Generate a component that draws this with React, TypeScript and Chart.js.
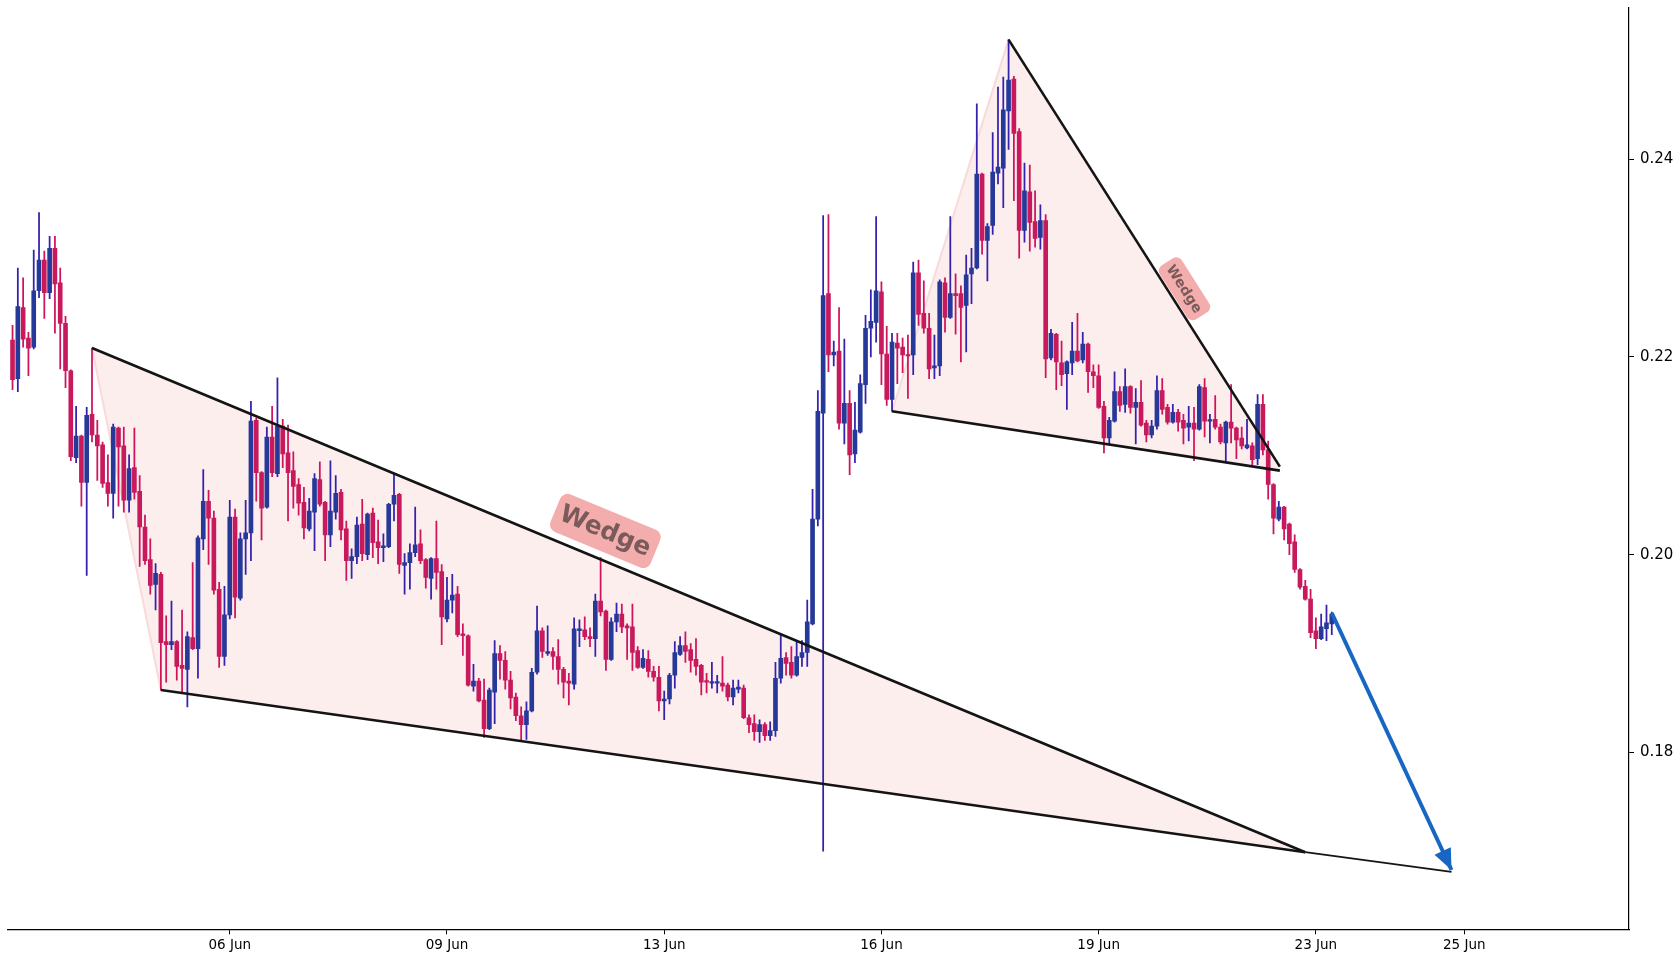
import React, { useEffect, useRef } from "react";
import { Chart, registerables } from "chart.js";

Chart.register(...registerables);

// ---------------- data ----------------
const opens = [
  0.2217, 0.2178, 0.2250, 0.2219, 0.2210, 0.2267, 0.2298, 0.2265, 0.2310, 0.2275,
  0.2234, 0.2186, 0.2098, 0.2120, 0.2073, 0.2142, 0.2121, 0.2111, 0.2073, 0.2062,
  0.2128, 0.2110, 0.2055, 0.2088, 0.2064, 0.2028, 0.1995, 0.1970, 0.1980, 0.1912,
  0.1909, 0.1912, 0.1888, 0.1884, 0.1916, 0.1905, 0.2016, 0.2054, 0.2037, 0.1965,
  0.1897, 0.1939, 0.2038, 0.1956, 0.2016, 0.2022, 0.2136, 0.2083, 0.2048, 0.2119,
  0.2082, 0.2130, 0.2103, 0.2085, 0.2071, 0.2053, 0.2026, 0.2043, 0.2076, 0.2053,
  0.2020, 0.2043, 0.2063, 0.2026, 0.1994, 0.1998, 0.2031, 0.2000, 0.2042, 0.2013,
  0.2007, 0.2008, 0.2051, 0.2061, 0.1989, 0.1992, 0.2002, 0.2011, 0.1995, 0.1976,
  0.1996, 0.1983, 0.1935, 0.1954, 0.1960, 0.1920, 0.1918, 0.1867, 0.1872, 0.1853,
  0.1824, 0.1861, 0.1900, 0.1893, 0.1873, 0.1856, 0.1837, 0.1828, 0.1842, 0.1881,
  0.1923, 0.1900, 0.1902, 0.1897, 0.1884, 0.1872, 0.1869, 0.1923, 0.1924, 0.1917,
  0.1915, 0.1953, 0.1943, 0.1894, 0.1932, 0.1940, 0.1928, 0.1927, 0.1903, 0.1886,
  0.1894, 0.1882, 0.1876, 0.1852, 0.1854, 0.1878, 0.1899, 0.1908, 0.1904, 0.1894,
  0.1888, 0.1872, 0.1870, 0.1870, 0.1870, 0.1868, 0.1856, 0.1864, 0.1865, 0.1835,
  0.1829, 0.1821, 0.1828, 0.1817, 0.1822, 0.1875, 0.1896, 0.1891, 0.1878, 0.1896,
  0.1901, 0.1930, 0.2036, 0.2143, 0.2264, 0.2202, 0.2206, 0.2133, 0.2153, 0.2102,
  0.2124, 0.2172, 0.2229, 0.2235, 0.2266, 0.2203, 0.2157, 0.2214, 0.2210, 0.2202,
  0.2202, 0.2285, 0.2244, 0.2229, 0.2189, 0.2191, 0.2275, 0.2240, 0.2264, 0.2264,
  0.2252, 0.2284, 0.2290, 0.2385, 0.2318, 0.2333, 0.2386, 0.2391, 0.2449, 0.2481,
  0.2428, 0.2328, 0.2367, 0.2337, 0.2321, 0.2338, 0.2199, 0.2223, 0.2194, 0.2183,
  0.2194, 0.2206, 0.2197, 0.2213, 0.2185, 0.2181, 0.2150, 0.2118, 0.2135, 0.2165,
  0.2152, 0.2170, 0.2149, 0.2154, 0.2133, 0.2121, 0.2130, 0.2166, 0.2149, 0.2134,
  0.2144, 0.2136, 0.2129, 0.2133, 0.2127, 0.2169, 0.2135, 0.2137, 0.2129, 0.2113,
  0.2134, 0.2128, 0.2118, 0.2108, 0.2110, 0.2097, 0.2152, 0.2106, 0.2071, 0.2036,
  0.2048, 0.2031, 0.2013, 0.1985, 0.1968, 0.1955, 0.1923, 0.1915, 0.1925, 0.1930,
];

const highs = [
  0.2232, 0.2290, 0.2280, 0.2225, 0.2308, 0.2346, 0.2307, 0.2322, 0.2322, 0.2290,
  0.2241, 0.2187, 0.2150, 0.2121, 0.2149, 0.2209, 0.2136, 0.2114, 0.2101, 0.2132,
  0.2129, 0.2129, 0.2101, 0.2128, 0.2080, 0.2040, 0.2016, 0.1991, 0.1982, 0.1938,
  0.1953, 0.1913, 0.1944, 0.1922, 0.1992, 0.2019, 0.2086, 0.2065, 0.2044, 0.1972,
  0.1968, 0.2055, 0.2046, 0.2022, 0.2055, 0.2155, 0.2138, 0.2084, 0.2129, 0.2150,
  0.2179, 0.2137, 0.2131, 0.2104, 0.2077, 0.2068, 0.2057, 0.2082, 0.2094, 0.2054,
  0.2095, 0.2080, 0.2066, 0.2034, 0.2006, 0.2038, 0.2056, 0.2042, 0.2047, 0.2035,
  0.2021, 0.2052, 0.2082, 0.2062, 0.2001, 0.2011, 0.2048, 0.2025, 0.1996, 0.1997,
  0.2034, 0.1990, 0.1977, 0.1980, 0.1968, 0.1930, 0.1919, 0.1889, 0.1875, 0.1874,
  0.1865, 0.1913, 0.1908, 0.1902, 0.1882, 0.1860, 0.1846, 0.1851, 0.1885, 0.1948,
  0.1926, 0.1928, 0.1906, 0.1914, 0.1886, 0.1880, 0.1936, 0.1934, 0.1937, 0.1926,
  0.1960, 0.1997, 0.1944, 0.1936, 0.1951, 0.1950, 0.1930, 0.1950, 0.1907, 0.1904,
  0.1903, 0.1887, 0.1887, 0.1862, 0.1880, 0.1912, 0.1917, 0.1922, 0.1910, 0.1915,
  0.1889, 0.1880, 0.1891, 0.1878, 0.1897, 0.1870, 0.1873, 0.1873, 0.1868, 0.1838,
  0.1838, 0.1833, 0.1830, 0.1831, 0.1891, 0.1919, 0.1901, 0.1907, 0.1912, 0.1913,
  0.1954, 0.2066, 0.2166, 0.2343, 0.2344, 0.2216, 0.2250, 0.2218, 0.2166, 0.2154,
  0.2182, 0.2242, 0.2268, 0.2342, 0.2276, 0.2231, 0.2224, 0.2224, 0.2219, 0.2222,
  0.2296, 0.2298, 0.2277, 0.2244, 0.2222, 0.2278, 0.2280, 0.2342, 0.2284, 0.2272,
  0.2303, 0.2310, 0.2456, 0.2386, 0.2335, 0.2427, 0.2473, 0.2483, 0.2521, 0.2484,
  0.2431, 0.2396, 0.2394, 0.2368, 0.2354, 0.2344, 0.2228, 0.2224, 0.2216, 0.2196,
  0.2235, 0.2244, 0.2225, 0.2214, 0.2192, 0.2192, 0.2155, 0.2139, 0.2185, 0.2170,
  0.2188, 0.2171, 0.2168, 0.2176, 0.2136, 0.2136, 0.2181, 0.2178, 0.2152, 0.2152,
  0.2147, 0.2142, 0.2150, 0.2149, 0.2172, 0.2178, 0.2142, 0.2161, 0.2132, 0.2135,
  0.2172, 0.2129, 0.2129, 0.2137, 0.2113, 0.2162, 0.2162, 0.2115, 0.2072, 0.2054,
  0.2049, 0.2032, 0.2020, 0.1986, 0.1974, 0.1965, 0.1936, 0.1940, 0.1949, 0.1942,
];

const lows = [
  0.2167, 0.2165, 0.2210, 0.2181, 0.2208, 0.2260, 0.2239, 0.2259, 0.2224, 0.2188,
  0.2169, 0.2095, 0.2093, 0.2049, 0.1979, 0.2114, 0.2075, 0.2068, 0.2049, 0.2037,
  0.2049, 0.2043, 0.2043, 0.2056, 0.1988, 0.1990, 0.1960, 0.1944, 0.1863, 0.1871,
  0.1904, 0.1873, 0.1860, 0.1846, 0.1904, 0.1875, 0.2005, 0.1990, 0.1960, 0.1886,
  0.1888, 0.1935, 0.1936, 0.1954, 0.1980, 0.1994, 0.2054, 0.2015, 0.2047, 0.2079,
  0.2079, 0.2088, 0.2034, 0.2047, 0.2040, 0.2016, 0.2024, 0.2004, 0.2049, 0.1994,
  0.2008, 0.2036, 0.2015, 0.1974, 0.1976, 0.1991, 0.1994, 0.1995, 0.1997, 0.1991,
  0.1993, 0.2007, 0.2034, 0.1981, 0.1960, 0.1965, 0.1998, 0.1991, 0.1966, 0.1955,
  0.1965, 0.1909, 0.1932, 0.1941, 0.1917, 0.1898, 0.1867, 0.1862, 0.1851, 0.1815,
  0.1823, 0.1829, 0.1874, 0.1864, 0.1844, 0.1832, 0.1811, 0.1813, 0.1841, 0.1879,
  0.1896, 0.1898, 0.1884, 0.1869, 0.1855, 0.1848, 0.1864, 0.1907, 0.1914, 0.1907,
  0.1897, 0.1938, 0.1883, 0.1893, 0.1922, 0.1921, 0.1894, 0.1883, 0.1885, 0.1885,
  0.1876, 0.1872, 0.1842, 0.1833, 0.1849, 0.1865, 0.1898, 0.1891, 0.1881, 0.1878,
  0.1858, 0.1860, 0.1865, 0.1860, 0.1862, 0.1852, 0.1848, 0.1860, 0.1834, 0.1820,
  0.1812, 0.1810, 0.1812, 0.1812, 0.1816, 0.1870, 0.1878, 0.1875, 0.1877, 0.1887,
  0.1887, 0.1929, 0.2029, 0.1700, 0.2185, 0.2191, 0.2127, 0.2112, 0.2081, 0.2093,
  0.2123, 0.2153, 0.2200, 0.2215, 0.2172, 0.2151, 0.2145, 0.2173, 0.2184, 0.2158,
  0.2182, 0.2232, 0.2224, 0.2178, 0.2178, 0.2181, 0.2225, 0.2239, 0.2223, 0.2195,
  0.2205, 0.2254, 0.2289, 0.2304, 0.2277, 0.2324, 0.2375, 0.2351, 0.2410, 0.2358,
  0.2300, 0.2316, 0.2307, 0.2311, 0.2309, 0.2179, 0.2197, 0.2167, 0.2171, 0.2147,
  0.2182, 0.2195, 0.2194, 0.2164, 0.2169, 0.2148, 0.2103, 0.2112, 0.2134, 0.2145,
  0.2144, 0.2143, 0.2112, 0.2130, 0.2114, 0.2118, 0.2127, 0.2142, 0.2132, 0.2133,
  0.2125, 0.2112, 0.2115, 0.2095, 0.2126, 0.2119, 0.2113, 0.2127, 0.2112, 0.2095,
  0.2113, 0.2097, 0.2107, 0.2107, 0.2091, 0.2091, 0.2101, 0.2056, 0.2021, 0.2034,
  0.2015, 0.2000, 0.1982, 0.1965, 0.1954, 0.1916, 0.1905, 0.1914, 0.1913, 0.1919,
];

const closes = [
  0.2177, 0.2251, 0.2218, 0.2209, 0.2267, 0.2298, 0.2265, 0.2310, 0.2274, 0.2234,
  0.2186, 0.2099, 0.2120, 0.2073, 0.2141, 0.2121, 0.2110, 0.2072, 0.2062, 0.2129,
  0.2109, 0.2055, 0.2087, 0.2063, 0.2028, 0.1994, 0.1969, 0.1981, 0.1911, 0.1909,
  0.1912, 0.1887, 0.1885, 0.1917, 0.1905, 0.2017, 0.2054, 0.2037, 0.1964, 0.1897,
  0.1939, 0.2038, 0.1957, 0.2016, 0.2022, 0.2135, 0.2083, 0.2047, 0.2119, 0.2083,
  0.2130, 0.2102, 0.2083, 0.2069, 0.2052, 0.2027, 0.2044, 0.2077, 0.2051, 0.2020,
  0.2044, 0.2062, 0.2025, 0.1994, 0.1998, 0.2030, 0.2001, 0.2041, 0.2012, 0.2007,
  0.2009, 0.2051, 0.2060, 0.1990, 0.1992, 0.2002, 0.2010, 0.1994, 0.1977, 0.1996,
  0.1982, 0.1937, 0.1954, 0.1959, 0.1919, 0.1918, 0.1868, 0.1872, 0.1852, 0.1824,
  0.1863, 0.1900, 0.1893, 0.1873, 0.1855, 0.1837, 0.1828, 0.1842, 0.1881, 0.1923,
  0.1902, 0.1902, 0.1897, 0.1884, 0.1871, 0.1870, 0.1925, 0.1925, 0.1917, 0.1915,
  0.1953, 0.1942, 0.1894, 0.1932, 0.1940, 0.1927, 0.1926, 0.1901, 0.1886, 0.1895,
  0.1882, 0.1876, 0.1852, 0.1854, 0.1878, 0.1901, 0.1908, 0.1902, 0.1893, 0.1887,
  0.1871, 0.1871, 0.1871, 0.1871, 0.1867, 0.1856, 0.1865, 0.1866, 0.1835, 0.1828,
  0.1821, 0.1828, 0.1817, 0.1822, 0.1875, 0.1895, 0.1890, 0.1878, 0.1897, 0.1901,
  0.1932, 0.2036, 0.2145, 0.2262, 0.2202, 0.2205, 0.2133, 0.2153, 0.2101, 0.2126,
  0.2173, 0.2229, 0.2236, 0.2267, 0.2203, 0.2157, 0.2215, 0.2209, 0.2202, 0.2201,
  0.2285, 0.2243, 0.2229, 0.2188, 0.2191, 0.2276, 0.2240, 0.2264, 0.2262, 0.2250,
  0.2283, 0.2290, 0.2385, 0.2318, 0.2332, 0.2387, 0.2392, 0.2450, 0.2480, 0.2426,
  0.2328, 0.2368, 0.2336, 0.2320, 0.2338, 0.2198, 0.2224, 0.2195, 0.2182, 0.2195,
  0.2206, 0.2196, 0.2213, 0.2185, 0.2181, 0.2149, 0.2118, 0.2136, 0.2165, 0.2151,
  0.2170, 0.2149, 0.2154, 0.2131, 0.2121, 0.2130, 0.2166, 0.2147, 0.2134, 0.2144,
  0.2134, 0.2128, 0.2133, 0.2127, 0.2170, 0.2135, 0.2136, 0.2129, 0.2114, 0.2134,
  0.2128, 0.2116, 0.2110, 0.2111, 0.2096, 0.2152, 0.2106, 0.2071, 0.2037, 0.2048,
  0.2026, 0.2011, 0.1985, 0.1967, 0.1955, 0.1921, 0.1915, 0.1927, 0.1931, 0.1940,
];

// x-axis ticks (candle index) and their labels
const xTickPositions = [41, 82, 123, 164, 205, 246, 274];
const xTickLabels = ["06 Jun", "09 Jun", "13 Jun", "16 Jun", "19 Jun", "23 Jun", "25 Jun"];
const yTickValues = [0.18, 0.2, 0.22, 0.24];

// pattern annotation anchor points (candle index, price)
const bigWedgeUpper = [
  { x: 15, y: 0.2209 },
  { x: 244, y: 0.1699 },
];
const bigWedgeLower = [
  { x: 28, y: 0.1863 },
  { x: 244, y: 0.1699 },
];
const smallWedgeUpper = [
  { x: 188, y: 0.2521 },
  { x: 239.2, y: 0.2089 },
];
const smallWedgeLower = [
  { x: 166, y: 0.2145 },
  { x: 239.2, y: 0.2085 },
];
const projectionLine = [
  { x: 244, y: 0.1699 },
  { x: 271.6, y: 0.1679 },
];
const arrowPath = [
  { x: 249, y: 0.1941 },
  { x: 271.6, y: 0.1681 },
];
const wedgeLabels = [
  { text: "Wedge", x: 111.9, y: 0.2024, size: 25, pad: 6, along: bigWedgeUpper },
  { text: "Wedge", x: 221.2, y: 0.2269, size: 14, pad: 5, along: smallWedgeUpper },
];

// ---------------- styles ----------------
const UP_BODY = "#263898";
const UP_WICK = "#3421ad";
const DOWN_BODY = "#c8195c";
const DOWN_WICK = "#cf145c";
const FILL = "#fdeeee";
const FILL_EDGE = "#f8dada";
const LINE = "#141414";
const ARROW = "#1866c4";
const LABEL_BOX = "#f4adad";
const LABEL_TEXT = "#7a5a5a";

type P = { x: number; y: number };

const overlayPlugin = {
  id: "wedgeOverlay",
  beforeDatasetsDraw(chart: any) {
    const { ctx, chartArea, scales } = chart;
    const xs = scales.x;
    const ys = scales.y;
    const px = (p: P) => [xs.getPixelForValue(p.x), ys.getPixelForValue(p.y)];
    const polys: P[][] = [
      [bigWedgeUpper[0], bigWedgeUpper[1], bigWedgeLower[0]],
      [smallWedgeLower[0], smallWedgeUpper[0], smallWedgeUpper[1], smallWedgeLower[1]],
    ];
    const edges: P[][] = [
      [bigWedgeUpper[0], bigWedgeLower[0]],
      [smallWedgeLower[0], smallWedgeUpper[0]],
    ];
    ctx.save();
    ctx.beginPath();
    ctx.rect(chartArea.left, chartArea.top, chartArea.right - chartArea.left, chartArea.bottom - chartArea.top);
    ctx.clip();
    for (const poly of polys) {
      ctx.beginPath();
      poly.forEach((p, k) => {
        const [a, b] = px(p);
        if (k === 0) ctx.moveTo(a, b);
        else ctx.lineTo(a, b);
      });
      ctx.closePath();
      ctx.fillStyle = FILL;
      ctx.fill();
    }
    ctx.strokeStyle = FILL_EDGE;
    ctx.lineWidth = 2;
    for (const e of edges) {
      const [a0, b0] = px(e[0]);
      const [a1, b1] = px(e[1]);
      ctx.beginPath();
      ctx.moveTo(a0, b0);
      ctx.lineTo(a1, b1);
      ctx.stroke();
    }
    ctx.restore();
  },
  afterDatasetsDraw(chart: any) {
    const { ctx, scales } = chart;
    const xs = scales.x;
    const ys = scales.y;
    const px = (p: P) => [xs.getPixelForValue(p.x), ys.getPixelForValue(p.y)];

    // arrow head
    const [sx, sy] = px(arrowPath[0]);
    const [ex, ey] = px(arrowPath[1]);
    const ang = Math.atan2(ey - sy, ex - sx);
    const L = 21;
    const W = 9;
    const bx = ex - L * Math.cos(ang);
    const by = ey - L * Math.sin(ang);
    ctx.save();
    ctx.fillStyle = ARROW;
    ctx.beginPath();
    ctx.moveTo(ex, ey);
    ctx.lineTo(bx + W * Math.sin(ang), by - W * Math.cos(ang));
    ctx.lineTo(bx - W * Math.sin(ang), by + W * Math.cos(ang));
    ctx.closePath();
    ctx.fill();
    ctx.restore();

    // rotated labels
    for (const lab of wedgeLabels) {
      const [cx, cy] = px(lab);
      const [l0x, l0y] = px(lab.along[0]);
      const [l1x, l1y] = px(lab.along[1]);
      const a = Math.atan2(l1y - l0y, l1x - l0x);
      ctx.save();
      ctx.translate(cx, cy);
      ctx.rotate(a);
      ctx.font = `bold ${lab.size}px "DejaVu Sans"`;
      const tw = ctx.measureText(lab.text).width;
      const th = lab.size * 1.15;
      const w = tw + lab.pad * 2;
      const h = th + lab.pad * 2;
      ctx.fillStyle = LABEL_BOX;
      ctx.beginPath();
      (ctx as any).roundRect(-w / 2, -h / 2, w, h, Math.min(8, h / 4));
      ctx.fill();
      ctx.fillStyle = LABEL_TEXT;
      ctx.textAlign = "center";
      ctx.textBaseline = "middle";
      ctx.fillText(lab.text, 0, 1);
      ctx.restore();
    }
  },
};

export default function App() {
  const canvasRef = useRef<HTMLCanvasElement | null>(null);

  useEffect(() => {
    if (!canvasRef.current) return;
    const n = opens.length;
    const idx = Array.from({ length: n }, (_, i) => i);
    const isUp = idx.map((i) => closes[i] >= opens[i]);

    const lineDs = (data: P[], color: string, width: number, order: number) => ({
      type: "line" as const,
      data,
      borderColor: color,
      borderWidth: width,
      pointRadius: 0,
      pointHoverRadius: 0,
      tension: 0,
      fill: false,
      order,
    });

    const chart = new Chart(canvasRef.current, {
      type: "bar",
      data: {
        datasets: [
          {
            type: "bar",
            data: idx.map((i) => ({ x: i, y: [lows[i], highs[i]] })) as any,
            backgroundColor: idx.map((i) => (isUp[i] ? UP_WICK : DOWN_WICK)),
            barThickness: 1.1,
            grouped: false,
            borderWidth: 0,
            order: 4,
          },
          {
            type: "bar",
            data: idx.map((i) => ({ x: i, y: [opens[i], closes[i]] })) as any,
            backgroundColor: idx.map((i) => (isUp[i] ? UP_BODY : DOWN_BODY)),
            barThickness: 4,
            minBarLength: 1.5,
            grouped: false,
            borderWidth: 0,
            order: 3,
          },
          lineDs(bigWedgeUpper, LINE, 2.6, 2) as any,
          lineDs(bigWedgeLower, LINE, 2.6, 2) as any,
          lineDs(smallWedgeUpper, LINE, 2.6, 2) as any,
          lineDs(smallWedgeLower, LINE, 2.6, 2) as any,
          lineDs(projectionLine, LINE, 1.8, 2) as any,
          lineDs(arrowPath, ARROW, 4, 1) as any,
        ],
      },
      options: {
        animation: false,
        responsive: true,
        maintainAspectRatio: false,
        layout: { padding: { left: 7.5, top: 8, right: 0, bottom: 0 } },
        plugins: {
          legend: { display: false },
          tooltip: { enabled: false },
          title: { display: false },
        },
        scales: {
          x: {
            type: "linear",
            min: -0.95,
            max: 305.1,
            offset: false,
            afterBuildTicks: (s: any) => {
              s.ticks = xTickPositions.map((v) => ({ value: v }));
            },
            afterFit: (s: any) => {
              s.height = 30.7;
              s.paddingLeft = 0;
              s.paddingRight = 0;
            },
            ticks: {
              autoSkip: false,
              maxRotation: 0,
              color: "#000",
              padding: 3,
              font: { family: "DejaVu Sans", size: 13.5 },
              callback: (_v: any, i: number) => xTickLabels[i],
            },
            grid: {
              offset: false,
              drawOnChartArea: false,
              drawTicks: true,
              tickLength: 5,
              tickColor: "#000",
              tickWidth: 1,
            },
            border: { display: true, color: "#000", width: 1.2 },
          },
          y: {
            type: "linear",
            position: "right",
            min: 0.1621,
            max: 0.2553,
            beginAtZero: false,
            afterBuildTicks: (s: any) => {
              s.ticks = yTickValues.map((v) => ({ value: v }));
            },
            afterFit: (s: any) => {
              s.width = 51;
              s.paddingTop = 0;
              s.paddingBottom = 0;
            },
            ticks: {
              color: "#000",
              padding: 6,
              font: { family: "DejaVu Sans", size: 15 },
              callback: (v: any) => Number(v).toFixed(2),
            },
            grid: {
              drawOnChartArea: false,
              drawTicks: true,
              tickLength: 5,
              tickColor: "#000",
              tickWidth: 1,
            },
            border: { display: true, color: "#000", width: 1.2 },
          },
        },
      },
      plugins: [overlayPlugin],
    } as any);

    return () => chart.destroy();
  }, []);

  return (
    <div
      style={{
        position: "fixed",
        left: 0,
        top: 0,
        width: 1680,
        height: 960,
        background: "#fff",
      }}
    >
      <canvas ref={canvasRef} />
    </div>
  );
}
